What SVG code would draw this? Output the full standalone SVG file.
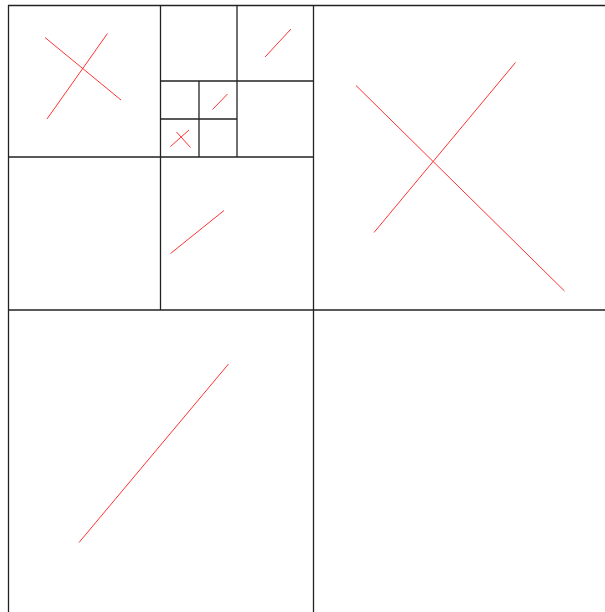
<svg xmlns="http://www.w3.org/2000/svg" width="605" height="612" viewBox="0 0 605 612">
<style>
.g{stroke:#222;stroke-width:1.3;fill:none}
.s{stroke:#ff3333;stroke-width:1;fill:none}
</style>
<rect width="605" height="612" fill="#fff"/>
<g id="grid">
<line class="g" x1="8" y1="5.5" x2="605" y2="5.5"/>
<line class="g" x1="8.5" y1="5" x2="8.5" y2="612"/>
<line class="g" x1="313.5" y1="5" x2="313.5" y2="612"/>
<line class="g" x1="8" y1="310" x2="605" y2="310"/>
<line class="g" x1="160.5" y1="5" x2="160.5" y2="310"/>
<line class="g" x1="8" y1="157" x2="313" y2="157"/>
<line class="g" x1="237" y1="5" x2="237" y2="157"/>
<line class="g" x1="160" y1="81" x2="313" y2="81"/>
<line class="g" x1="199" y1="81" x2="199" y2="157"/>
<line class="g" x1="160" y1="119" x2="237" y2="119"/>
</g>
<g id="segments">
<line class="s" x1="45" y1="37.5" x2="121" y2="100"/>
<line class="s" x1="107.5" y1="33.5" x2="47" y2="119"/>
<line class="s" x1="291" y1="29" x2="265" y2="57"/>
<line class="s" x1="227.5" y1="94" x2="212.5" y2="109.5"/>
<line class="s" x1="176.5" y1="132" x2="190.5" y2="147.5"/>
<line class="s" x1="189" y1="130" x2="170.5" y2="146.5"/>
<line class="s" x1="356" y1="85.5" x2="564.5" y2="291"/>
<line class="s" x1="515.5" y1="62.5" x2="374" y2="232.5"/>
<line class="s" x1="224" y1="210.5" x2="170.5" y2="253.5"/>
<line class="s" x1="228.5" y1="364" x2="79" y2="542.5"/>
</g>
</svg>
